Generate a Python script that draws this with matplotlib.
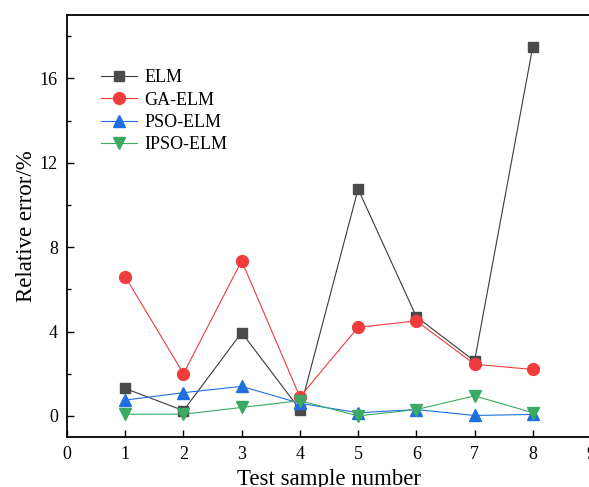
import numpy as np
import matplotlib.pyplot as plt
from matplotlib.ticker import MultipleLocator

plt.rcParams['font.family'] = ['Liberation Serif', 'DejaVu Serif']

# Relative error of each model per test sample
samples = [1, 2, 3, 4, 5, 6, 7, 8]
elm = [1.3, 0.25, 3.95, 0.3, 10.75, 4.7, 2.6, 17.5]
ga_elm = [6.6, 2.0, 7.35, 0.9, 4.2, 4.5, 2.45, 2.2]
pso_elm = [0.75, 1.1, 1.4, 0.6, 0.15, 0.3, 0.02, 0.07]
ipso_elm = [0.08, 0.08, 0.4, 0.72, 0.0, 0.3, 0.95, 0.15]

fig = plt.figure(figsize=(5.89, 4.87), dpi=100)
ax = fig.add_axes([67/589, 1-437/487, 524/589, 422/487])

ax.plot(samples, elm, color='#3a3a3a', lw=0.8, marker='s', ms=7,
        mfc='#4a4a4a', mec='#4a4a4a', label='ELM')
ax.plot(samples, ga_elm, color='#f03c3c', lw=0.8, marker='o', ms=8.5,
        mfc='#f03c3c', mec='#f03c3c', label='GA-ELM')
ax.plot(samples, pso_elm, color='#1f6fe0', lw=0.8, marker='^', ms=9,
        mfc='#1f6fe0', mec='#1f6fe0', label='PSO-ELM')
ax.plot(samples, ipso_elm, color='#3aaa64', lw=0.8, marker='v', ms=9,
        mfc='#3aaa64', mec='#3aaa64', label='IPSO-ELM')

ax.set_xlim(0, 9)
ax.set_ylim(-1, 19)
ax.xaxis.set_major_locator(MultipleLocator(1))
ax.yaxis.set_major_locator(MultipleLocator(4))
ax.yaxis.set_minor_locator(MultipleLocator(2))
ax.tick_params(direction='in', labelsize=13, length=5, width=1, pad=6.5)
ax.tick_params(which='minor', direction='in', length=3, width=1)
for s in ax.spines.values():
    s.set_linewidth(1.3)

ax.set_xlabel('Test sample number', fontsize=16.5, labelpad=4)
ax.set_ylabel('Relative error/%', fontsize=16.5, labelpad=2)

ax.legend(loc='upper left', bbox_to_anchor=(85/589, 1-53/487),
          bbox_transform=fig.transFigure, frameon=False, fontsize=13,
          handlelength=2.0, handletextpad=0.4, labelspacing=0.3)

fig.savefig('out.png', dpi=100)
